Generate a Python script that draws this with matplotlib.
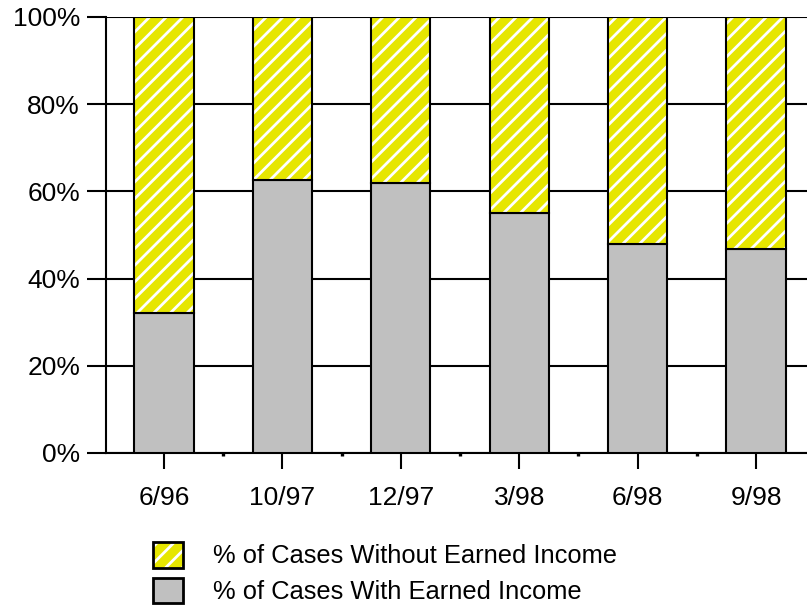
import matplotlib
matplotlib.use("Agg")
import matplotlib.pyplot as plt
from matplotlib.patches import Patch
from matplotlib.legend_handler import HandlerTuple
from matplotlib.ticker import FixedLocator, PercentFormatter

plt.rcParams['font.family'] = ['Liberation Sans', 'DejaVu Sans']
plt.rcParams['hatch.linewidth'] = 2.0

# caseload composition by survey date
dates = ['6/96', '10/97', '12/97', '3/98', '6/98', '9/98']
pct_with_income = [32.0, 62.6, 61.9, 55.0, 47.9, 46.7]
pct_without_income = [68.0, 37.4, 38.1, 45.0, 52.1, 53.3]

label_without = '% of Cases Without Earned Income'
label_with = '% of Cases With Earned Income'

YELLOW = '#e6e600'
GRAY = '#c0c0c0'
LW = 1.5

fig = plt.figure(figsize=(8.07, 6.08), dpi=100)
ax = fig.add_axes([106 / 807, 1 - 453 / 608, 1 - 106 / 807, 436 / 608])

x = list(range(len(dates)))
width = 0.5

# gray segment: cases with earned income
ax.bar(x, pct_with_income, width=width, color=GRAY, edgecolor='black',
       linewidth=LW, zorder=3)

# hatched segment stacked on top: white stripes on yellow, then black outline
ax.bar(x, pct_without_income, width=width, bottom=pct_with_income,
       color=YELLOW, edgecolor='white', hatch='//', linewidth=0, zorder=3)
ax.bar(x, pct_without_income, width=width, bottom=pct_with_income,
       fill=False, edgecolor='black', linewidth=LW, zorder=4)

ax.set_xlim(-0.49, 5.43)
ax.set_ylim(0, 100)

ax.yaxis.set_major_locator(FixedLocator([0, 20, 40, 60, 80, 100]))
ax.yaxis.set_major_formatter(PercentFormatter(decimals=0))
ax.set_xticks(x)
ax.set_xticklabels(dates)
ax.xaxis.set_minor_locator(FixedLocator([i + 0.5 for i in range(len(dates) - 1)]))

ax.tick_params(axis='y', direction='out', length=13.7, width=LW, pad=5,
               labelsize=19, color='black')
ax.tick_params(axis='x', which='major', direction='out', length=11.5,
               width=LW, pad=12, labelsize=19)
ax.tick_params(axis='x', which='minor', direction='out', length=2.5, width=2.4)

ax.grid(axis='y', color='black', linewidth=LW, zorder=0)
ax.set_axisbelow(True)

for side in ['top', 'right']:
    ax.spines[side].set_visible(False)
for side in ['left', 'bottom']:
    ax.spines[side].set_linewidth(LW)

hatch_patch = Patch(facecolor=YELLOW, edgecolor='white', hatch='//', linewidth=0)
outline_patch = Patch(fill=False, edgecolor='black', linewidth=2)
gray_patch = Patch(facecolor=GRAY, edgecolor='black', linewidth=2)

fig.legend([(hatch_patch, outline_patch), gray_patch], [label_without, label_with],
           handler_map={tuple: HandlerTuple(ndivide=1, pad=0)},
           loc='upper left', bbox_to_anchor=(153 / 807, 1 - 542 / 608),
           frameon=False, fontsize=18.4, borderpad=0, borderaxespad=0,
           handlelength=1.17, handleheight=1.17, handletextpad=1.17,
           labelspacing=0.36)

fig.savefig('out.png', dpi=100)
